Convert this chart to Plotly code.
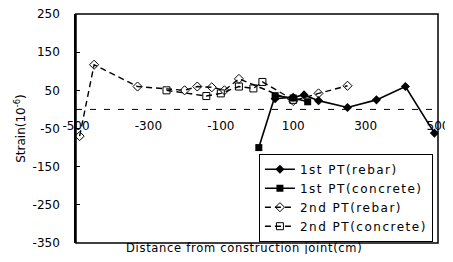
import plotly.graph_objects as go

# ---- data ----
x_tick_vals = [-500, -300, -100, 100, 300, 500]
y_tick_vals = [-350, -250, -150, -50, 50, 150, 250]

x_1st_rebar = [50, 100, 130, 170, 250, 330, 410, 490]
y_1st_rebar = [28, 32, 38, 23, 5, 25, 60, -62]

x_1st_concrete = [5, 50, 100, 140]
y_1st_concrete = [-100, 36, 30, 20]

x_2nd_rebar = [-490, -450, -330, -200, -165, -125, -90, -50, 100, 170, 250]
y_2nd_rebar = [-70, 117, 60, 50, 60, 58, 50, 80, 22, 42, 62]

x_2nd_concrete = [-250, -140, -100, -50, -10, 15, 100]
y_2nd_concrete = [50, 35, 42, 60, 55, 72, 25]

names = ["1st PT(rebar)", "1st PT(concrete)", "2nd PT(rebar)", "2nd PT(concrete)"]

FONT = "DejaVu Sans, Arial, sans-serif"


def spaced(t, px):
    return '<span style="letter-spacing:%spx">%s</span>' % (px, t)


fig = go.Figure()
fig.add_trace(go.Scatter(x=x_1st_rebar, y=y_1st_rebar, name=spaced(names[0], 1.5), mode="lines+markers",
                         line=dict(color="black", width=1.6),
                         marker=dict(symbol="diamond", size=7, color="black")))
fig.add_trace(go.Scatter(x=x_1st_concrete, y=y_1st_concrete, name=spaced(names[1], 1.5), mode="lines+markers",
                         line=dict(color="black", width=1.6),
                         marker=dict(symbol="square", size=7, color="black")))
fig.add_trace(go.Scatter(x=x_2nd_rebar, y=y_2nd_rebar, name=spaced(names[2], 1.5), mode="lines+markers",
                         line=dict(color="black", width=1.4, dash="6px,4px"),
                         marker=dict(symbol="diamond-open", size=7, color="black", line=dict(width=1))))
fig.add_trace(go.Scatter(x=x_2nd_concrete, y=y_2nd_concrete, name=spaced(names[3], 1.5), mode="lines+markers",
                         line=dict(color="black", width=1.4, dash="6px,4px"),
                         marker=dict(symbol="square-open", size=7, color="black", line=dict(width=1))))

zero_pos = (0 - (-350)) / 600.0

fig.update_layout(
    width=445, height=246,
    margin=dict(l=68, r=15, t=6, b=11, autoexpand=False),
    paper_bgcolor="white", plot_bgcolor="white",
    font=dict(family=FONT, size=11, color="black"),
    showlegend=True,
    legend=dict(x=0.986, xanchor="right", y=0.39, yanchor="top",
                bgcolor="white", bordercolor="black", borderwidth=1,
                font=dict(family=FONT, size=12, color="black"), tracegroupgap=0,
                itemwidth=30),
    xaxis=dict(range=[-500, 500], tickvals=x_tick_vals, ticktext=[str(v) for v in x_tick_vals],
               showgrid=False, zeroline=False, showline=False, automargin=False,
               anchor="free", position=zero_pos, ticks="", ticklabelstandoff=8,
               ticklabeloverflow="allow",
               tickfont=dict(family=FONT, size=12, color="black")),
    yaxis=dict(range=[-350, 250], tickvals=y_tick_vals, ticktext=[str(v) for v in y_tick_vals],
               showgrid=False, zeroline=False, showline=True, linecolor="black", linewidth=1.5,
               automargin=False,
               ticks="inside", ticklen=4, tickcolor="black", ticklabelstandoff=12,
               ticklabeloverflow="allow",
               tickfont=dict(family=FONT, size=12, color="black"),
               title=dict(text="Strain(10<sup>-6</sup>)", font=dict(family=FONT, size=12, color="black"),
                          standoff=4)),
)

# frame and dashed zero line
fig.add_shape(type="rect", xref="paper", yref="paper", x0=0, x1=1, y0=0, y1=1,
              line=dict(color="black", width=1.5), layer="below")
fig.add_shape(type="line", xref="paper", yref="y", x0=0, x1=1, y0=0, y1=0,
              line=dict(color="black", width=1, dash="6px,8px"), layer="below")

fig.add_annotation(text=spaced("Distance from construction joint(cm)", 0.7), xref="paper", yref="paper",
                   x=0.465, y=-0.022, xanchor="center", yanchor="middle", showarrow=False,
                   font=dict(family=FONT, size=11.5, color="black"))

fig.write_html("out.html")
